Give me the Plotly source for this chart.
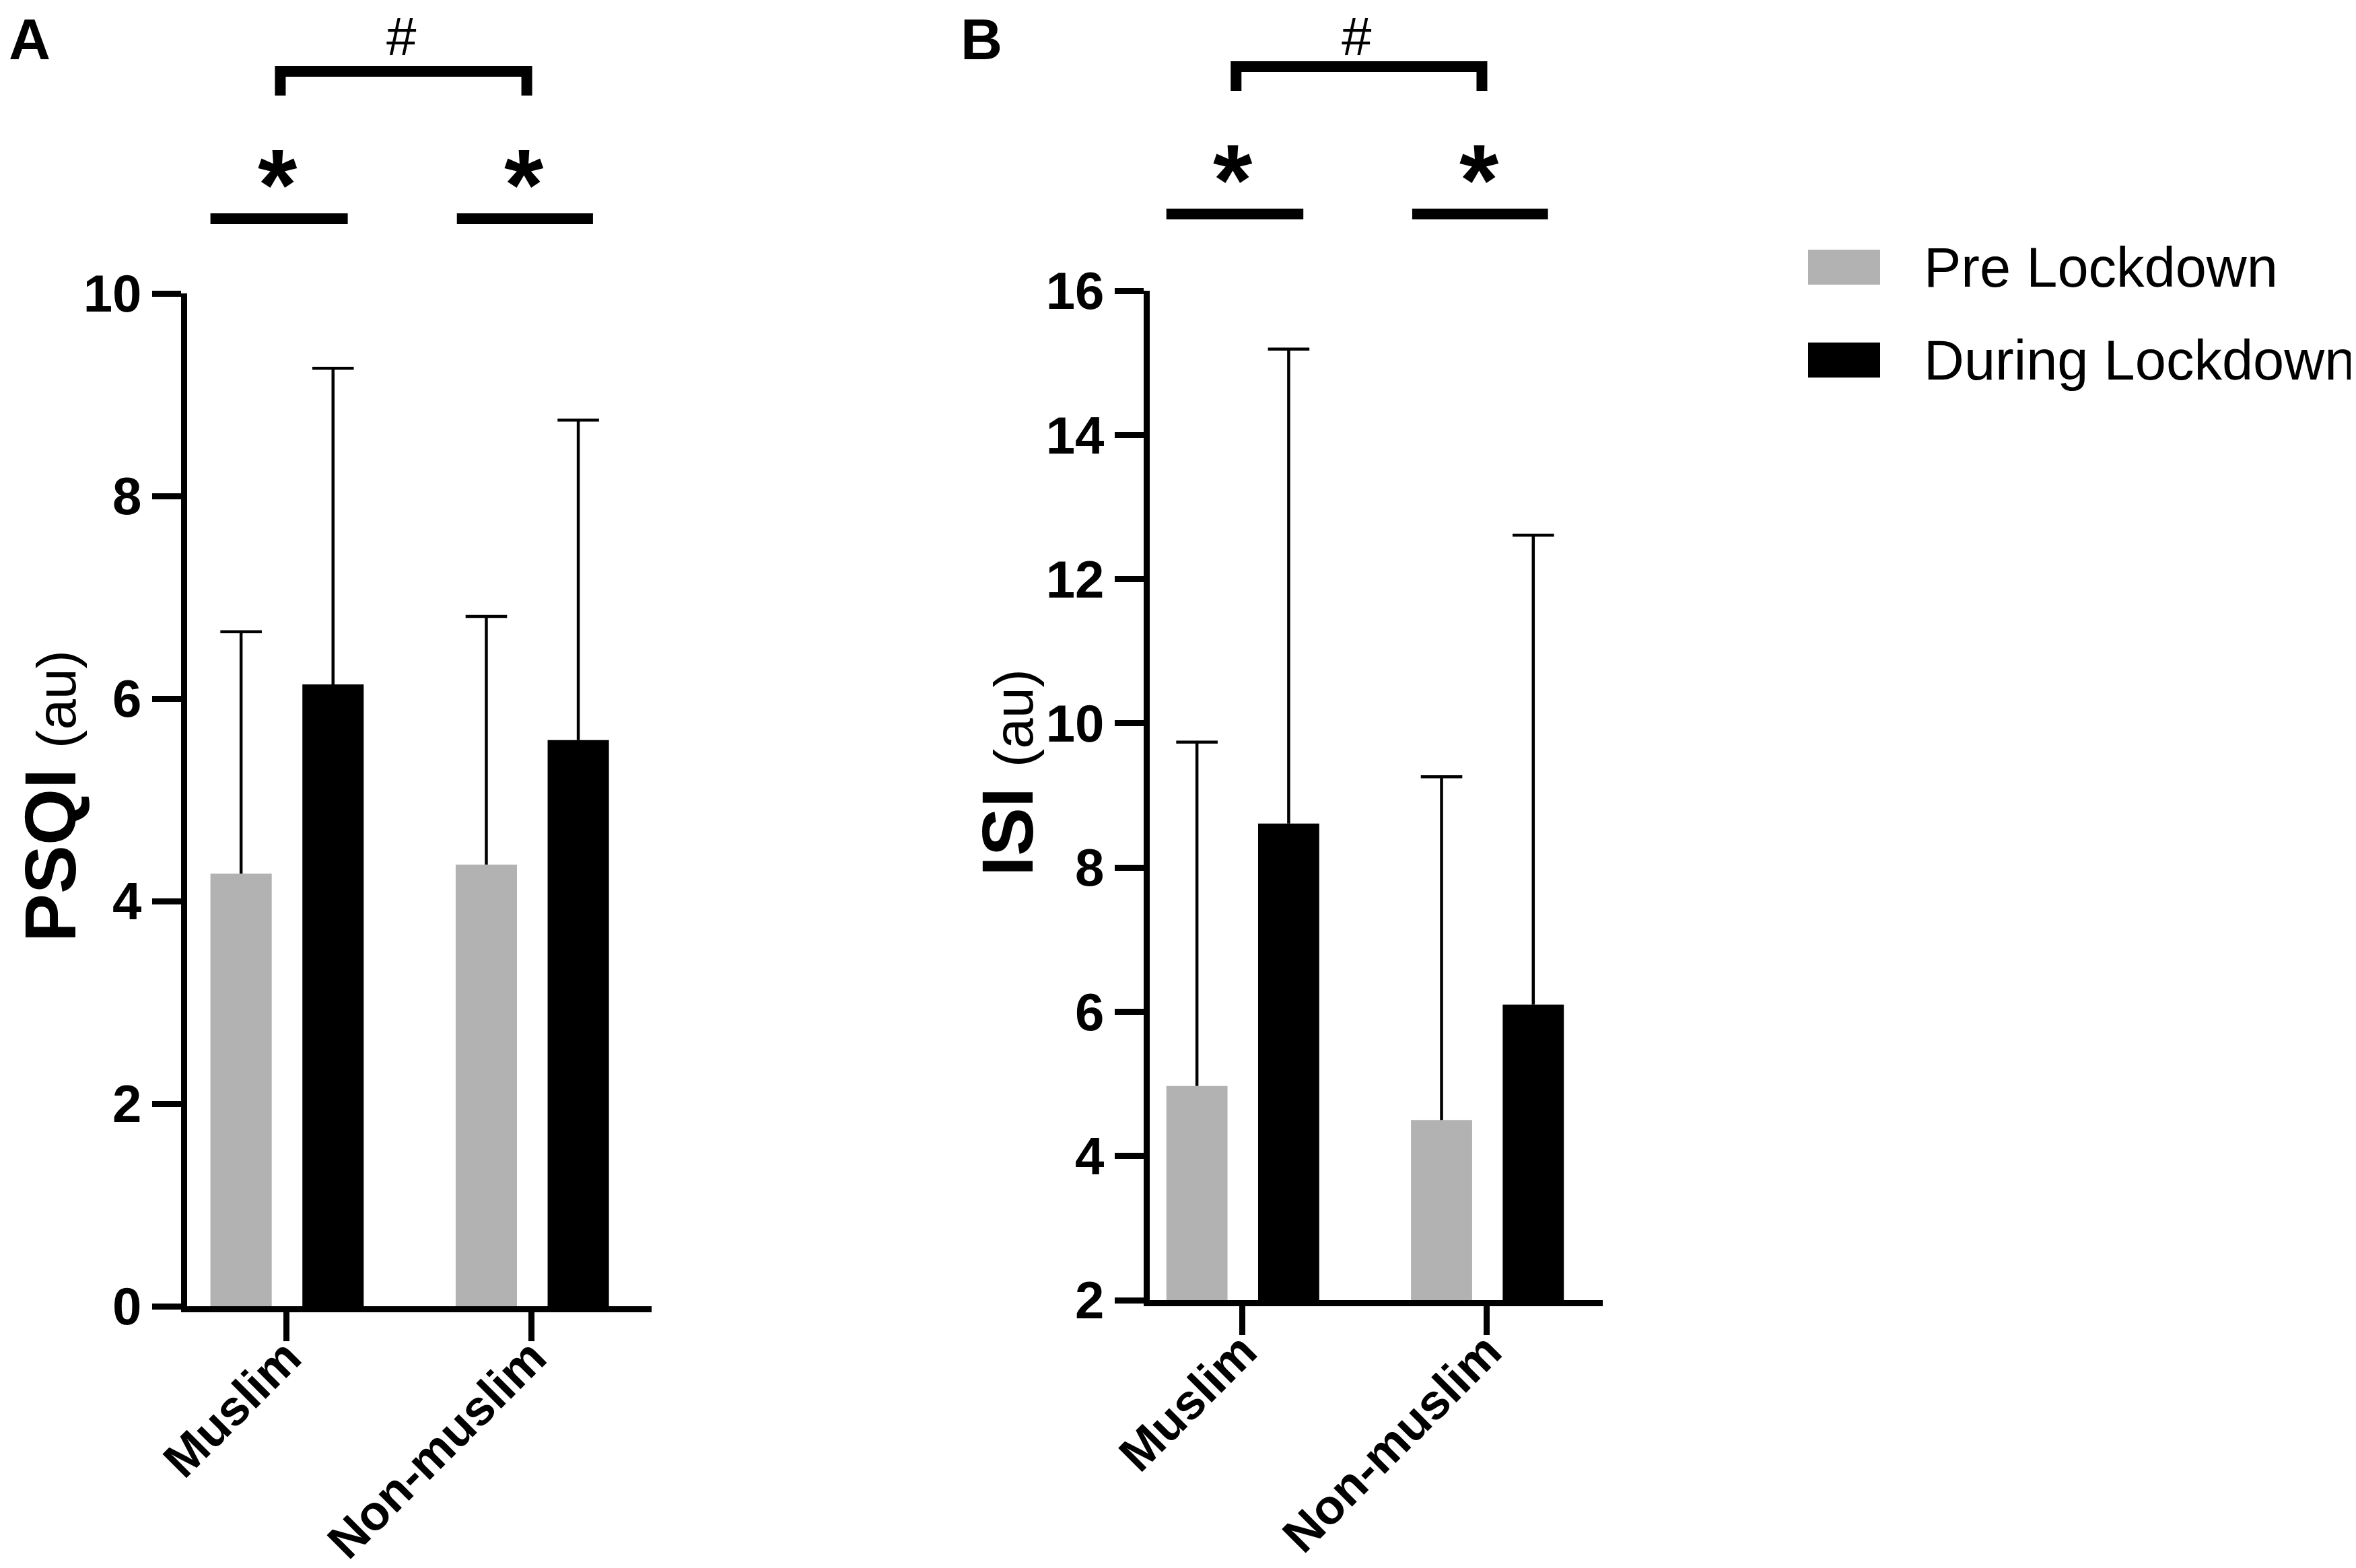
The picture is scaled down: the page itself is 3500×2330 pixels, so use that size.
import plotly.graph_objects as go

# Data (mean and upper SD end)
groups = ["Muslim", "Non-muslim"]
series_names = ["Pre Lockdown", "During Lockdown"]
series_colors = ["#B2B2B2", "#000000"]

psqi_pre = [4.27, 4.36]
psqi_pre_sd = [2.39, 2.45]
psqi_during = [6.14, 5.59]
psqi_during_sd = [3.12, 3.16]

isi_pre = [4.97, 4.50]
isi_pre_sd = [4.77, 4.76]
isi_during = [8.61, 6.10]
isi_during_sd = [6.58, 6.51]

psqi_ticks = [0, 2, 4, 6, 8, 10]
isi_ticks = [2, 4, 6, 8, 10, 12, 14, 16]

W, H = 3500, 2330
FONT = "Liberation Sans, Arial, sans-serif"
BAR_W = 0.25
OFFSETS = [-0.31, 0.065]


def py(px):
    # pixel row -> paper y
    return 1 - px / H


def px_x(px):
    return px / W


fig = go.Figure()
xpos = list(range(len(groups)))

panels = [
    dict(x="x", y="y", vals=[psqi_pre, psqi_during], sds=[psqi_pre_sd, psqi_during_sd]),
    dict(x="x2", y="y2", vals=[isi_pre, isi_during], sds=[isi_pre_sd, isi_during_sd]),
]

for p in panels:
    for name, color, vals, sd, off in zip(series_names, series_colors, p["vals"], p["sds"], OFFSETS):
        fig.add_trace(go.Bar(
            x=xpos, y=vals, name=name, xaxis=p["x"], yaxis=p["y"],
            width=BAR_W, offset=off, marker=dict(color=color, line=dict(width=0)),
            error_y=dict(type="data", array=sd, arrayminus=[0] * len(sd), symmetric=False,
                         color="black", thickness=4.5, width=0),
            showlegend=False, hoverinfo="skip",
        ))
        # caps only at the top of each SD bar
        fig.add_trace(go.Scatter(
            x=[i + off + BAR_W / 2 for i in xpos], y=[v + s for v, s in zip(vals, sd)],
            xaxis=p["x"], yaxis=p["y"], mode="markers", showlegend=False, hoverinfo="skip",
            marker=dict(symbol="line-ew", size=44, color="black", line=dict(color="black", width=4.5)),
        ))

axis_common = dict(showline=True, linecolor="black", linewidth=9, ticks="outside",
                   ticklen=43, tickwidth=9, tickcolor="black", showgrid=False, zeroline=False,
                   automargin=False)
xtick = dict(tickmode="array", tickvals=xpos, ticktext=groups, tickangle=-45,
             ticklabelstandoff=-48, tickfont=dict(size=73, weight="bold", family=FONT))

fig.update_layout(
    width=W, height=H, autosize=False,
    margin=dict(l=0, r=0, t=0, b=0),
    paper_bgcolor="white", plot_bgcolor="white",
    barmode="overlay",
    font=dict(family=FONT, color="black"),
    xaxis=dict(domain=[px_x(270), px_x(960)], range=[-0.405, 1.489], anchor="y", **xtick, **axis_common),
    yaxis=dict(domain=[py(1933), py(428)], range=[0, 10], anchor="x", tickvals=psqi_ticks,
               tickfont=dict(size=78, weight="bold", family=FONT), **axis_common),
    xaxis2=dict(domain=[px_x(1700), px_x(2373)], range=[-0.378, 1.474], anchor="y2", **xtick, **axis_common),
    yaxis2=dict(domain=[py(1924), py(424)], range=[2, 16], anchor="x2", tickvals=isi_ticks,
                tickfont=dict(size=78, weight="bold", family=FONT), **axis_common),
)

shapes = []
annotations = []

# significance markers for each panel
for xr, top in [("x", 0), ("x2", -7)]:
    # bracket between groups
    y_bar = py(98 + top)
    y_leg = py(134 + top)
    shapes.append(dict(type="path", xref=xr, yref="paper",
                       path=f"M -0.025,{y_leg} L -0.025,{y_bar} L 0.98,{y_bar} L 0.98,{y_leg}",
                       line=dict(color="black", width=16)))
    annotations.append(dict(text="#", xref=xr, yref="paper", x=0.468, y=1,
                            showarrow=False, font=dict(size=80, family=FONT),
                            xanchor="center", yanchor="top"))
    for cx, x0, x1 in [(-0.037, -0.31, 0.25), (0.97, 0.695, 1.25)]:
        shapes.append(dict(type="line", xref=xr, yref="paper", x0=x0, x1=x1,
                           y0=py(317 + top), y1=py(317 + top),
                           line=dict(color="black", width=16)))
        annotations.append(dict(text="<b>*</b>", xref=xr, yref="paper", x=cx, y=py(267 + top),
                                showarrow=False, font=dict(size=150, family=FONT),
                                xanchor="center", yanchor="middle"))

# panel letters
for letter, cx in [("A", 36), ("B", 1450)]:
    annotations.append(dict(text=f"<b>{letter}</b>", xref="paper", yref="paper",
                            x=px_x(cx), y=1, showarrow=False,
                            font=dict(size=86, family=FONT), xanchor="center", yanchor="top"))

# y axis titles
for title, cx, cy in [("PSQI", 66, 1175), ("ISI", 1488, 1140)]:
    annotations.append(dict(
        text=f"<b>{title}</b> <span style='font-size:82px'>(au)</span>",
        xref="paper", yref="paper", x=px_x(cx), y=py(cy), textangle=-90,
        showarrow=False, font=dict(size=108, family=FONT), xanchor="center", yanchor="middle"))

# legend drawn by hand
for i, (name, color) in enumerate(zip(series_names, series_colors)):
    cy = 389 + i * 138
    shapes.append(dict(type="rect", xref="paper", yref="paper",
                       x0=px_x(2678), x1=px_x(2785), y0=py(cy - 26), y1=py(cy + 26),
                       fillcolor=color, line=dict(width=0)))
    annotations.append(dict(text=name, xref="paper", yref="paper", x=px_x(2848), y=py(cy),
                            showarrow=False, font=dict(size=83, family=FONT),
                            xanchor="left", yanchor="middle"))

fig.update_layout(shapes=shapes, annotations=annotations)

fig.write_html("out.html")
